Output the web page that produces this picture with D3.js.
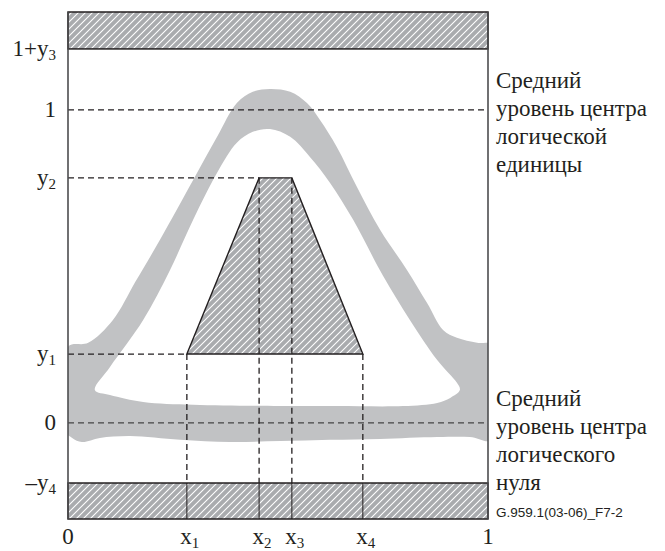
<!DOCTYPE html>
<html><head><meta charset="utf-8">
<script src="https://cdn.jsdelivr.net/npm/d3@7"></script>
<style>body{margin:0;background:#fff}svg{display:block}</style>
</head><body>
<svg id="c" width="665" height="551"></svg>
<script>
// ---- data (normalized units: x 0..1 time, y amplitude) ----
const xPoints = [0.283, 0.455, 0.533, 0.702];      // x1, x2, x3, x4
const yPoints = [0.22, 0.783, 0.195, 0.192];       // y1, y2, y3, y4
const xTickLabels = [["0",""],["x","1"],["x","2"],["x","3"],["x","4"],["1",""]];
const yTickLabels = [["1+y","3"],["1",""],["y","2"],["y","1"],["0",""],["\u2013y","4"]];
const rightLabelTop = ["Средний","уровень центра","логической","единицы"];
const rightLabelBottom = ["Средний","уровень центра","логического","нуля"];
const figureId = "G.959.1(03-06)_F7-2";
// eye diagram envelope (outer contour and inner opening)
const eyeOuter = [[0,0.243],[0.048,0.256],[0.107,0.329],[0.160,0.450],[0.219,0.585],[0.298,0.776],[0.355,0.914],[0.402,1.022],[0.440,1.058],[0.481,1.067],[0.529,1.058],[0.569,1.022],[0.600,0.968],[0.640,0.882],[0.688,0.754],[0.743,0.617],[0.807,0.489],[0.855,0.383],[0.893,0.297],[0.926,0.272],[0.974,0.256],[1.01,0.249],[1.01,-0.054],[0.957,-0.045],[0.879,-0.045],[0.743,-0.051],[0.624,-0.054],[0.505,-0.058],[0.386,-0.061],[0.267,-0.054],[0.148,-0.042],[0.076,-0.048],[0.033,-0.061],[0.010,-0.048],[-0.01,-0.022]];
const eyeInner = [[0.064,0.105],[0.100,0.179],[0.179,0.329],[0.243,0.489],[0.298,0.649],[0.355,0.799],[0.402,0.895],[0.440,0.930],[0.481,0.939],[0.529,0.914],[0.576,0.850],[0.624,0.767],[0.679,0.649],[0.750,0.470],[0.814,0.329],[0.879,0.201],[0.926,0.128],[0.933,0.105],[0.910,0.080],[0.879,0.064],[0.798,0.054],[0.640,0.054],[0.505,0.054],[0.298,0.058],[0.179,0.067],[0.100,0.089]];

const [x1,x2,x3,x4] = xPoints;
const [y1,y2,y3,y4] = yPoints;
const yTop = 1.313, yBot = -0.307;

const svg = d3.select("#c");
const x = d3.scaleLinear().domain([0,1]).range([68,488]);
const y = d3.scaleLinear().domain([yBot,yTop]).range([519,12]);

const defs = svg.append("defs");
const pat = defs.append("pattern").attr("id","hatch").attr("patternUnits","userSpaceOnUse")
  .attr("width",7).attr("height",7);
pat.append("rect").attr("width",7).attr("height",7).attr("fill","#a9abae");
pat.append("path").attr("d","M-1,1 l2,-2 M0,7 l7,-7 M6,8 l2,-2").attr("stroke","#fff").attr("stroke-width",1.1);
defs.append("clipPath").attr("id","plot").append("rect")
  .attr("x",x(0)).attr("y",y(yTop)).attr("width",x(1)-x(0)).attr("height",y(yBot)-y(yTop));

const ink = "#231f20";

// eye envelope
const line = d3.line().x(d=>x(d[0])).y(d=>y(d[1])).curve(d3.curveCatmullRomClosed.alpha(0.5));
svg.append("path").attr("clip-path","url(#plot)")
  .attr("d", line(eyeOuter) + line(eyeInner))
  .attr("fill","#c1c2c4").attr("fill-rule","evenodd");

// mask trapezoid
const trap = [[x1,y1],[x2,y2],[x3,y2],[x4,y1]];
svg.append("path").attr("d", d3.line().x(d=>x(d[0])).y(d=>y(d[1]))(trap)+"Z")
  .attr("fill","url(#hatch)").attr("stroke",ink).attr("stroke-width",1.4).attr("stroke-linejoin","miter");

// dashed guide lines
const dash = "6,4";
const g = svg.append("g").attr("stroke",ink).attr("stroke-width",1.3).attr("stroke-dasharray",dash).attr("fill","none");
g.append("line").attr("x1",x(0)).attr("x2",x(1)).attr("y1",y(1)).attr("y2",y(1));
g.append("line").attr("x1",x(0)).attr("x2",x(1)).attr("y1",y(0)).attr("y2",y(0)).attr("stroke","#444");
g.append("line").attr("x1",x(0)).attr("x2",x(x2)).attr("y1",y(y2)).attr("y2",y(y2));
g.append("line").attr("x1",x(0)).attr("x2",x(x1)).attr("y1",y(y1)).attr("y2",y(y1));
[[x1,y1],[x2,y2],[x3,y2],[x4,y1]].forEach(([xv,yv])=>{
  g.append("line").attr("x1",x(xv)).attr("x2",x(xv)).attr("y1",y(yv)).attr("y2",y(yBot));
});

// hatched bands
svg.append("rect").attr("x",x(0)).attr("y",y(yTop)).attr("width",x(1)-x(0)).attr("height",y(1+y3)-y(yTop))
  .attr("fill","url(#hatch)").attr("stroke",ink).attr("stroke-width",1.5);
svg.append("rect").attr("x",x(0)).attr("y",y(-y4)).attr("width",x(1)-x(0)).attr("height",y(yBot)-y(-y4))
  .attr("fill","url(#hatch)").attr("stroke",ink).attr("stroke-width",1.5);
[x1,x2,x3,x4].forEach(xv=>{
  svg.append("line").attr("x1",x(xv)).attr("x2",x(xv)).attr("y1",y(-y4)).attr("y2",y(yBot))
    .attr("stroke",ink).attr("stroke-width",1);
});

// frame verticals
svg.append("line").attr("x1",x(0)).attr("x2",x(0)).attr("y1",y(yTop)).attr("y2",y(yBot)).attr("stroke","#4d4d4f").attr("stroke-width",1.6);
svg.append("line").attr("x1",x(1)).attr("x2",x(1)).attr("y1",y(yTop)).attr("y2",y(yBot)).attr("stroke","#4d4d4f").attr("stroke-width",1.6);

// labels
const serif = "'Times New Roman','Liberation Serif','DejaVu Serif','Noto Serif',Times,serif";
function label(parent, parts, px, py, anchor){
  const t = parent.append("text").attr("x",px).attr("y",py).attr("text-anchor",anchor)
    .style("font-family",serif).attr("font-size",23).attr("fill",ink);
  t.append("tspan").text(parts[0]);
  if (parts[1]) t.append("tspan").attr("font-size",15).attr("dy",4).text(parts[1]);
  return t;
}
const yVals = [1+y3, 1, y2, y1, 0, -y4];
yTickLabels.forEach((p,i)=> label(svg, p, 56, y(yVals[i])+7, "end"));
const xVals = [0, x1, x2, x3, x4, 1];
xTickLabels.forEach((p,i)=> label(svg, p, x(xVals[i])+(p[1]?3:0), 544, "middle"));

function block(lines, top){
  lines.forEach((s,i)=> svg.append("text").attr("x",496).attr("y",top+i*28)
    .style("font-family",serif).attr("font-size",23).attr("fill",ink).text(s));
}
block(rightLabelTop, 88);
block(rightLabelBottom, 406);
svg.append("text").attr("x",496).attr("y",517).style("font-family","'Liberation Sans',Arial,sans-serif")
  .attr("font-size",13.5).attr("fill",ink).text(figureId);
</script>
</body></html>
